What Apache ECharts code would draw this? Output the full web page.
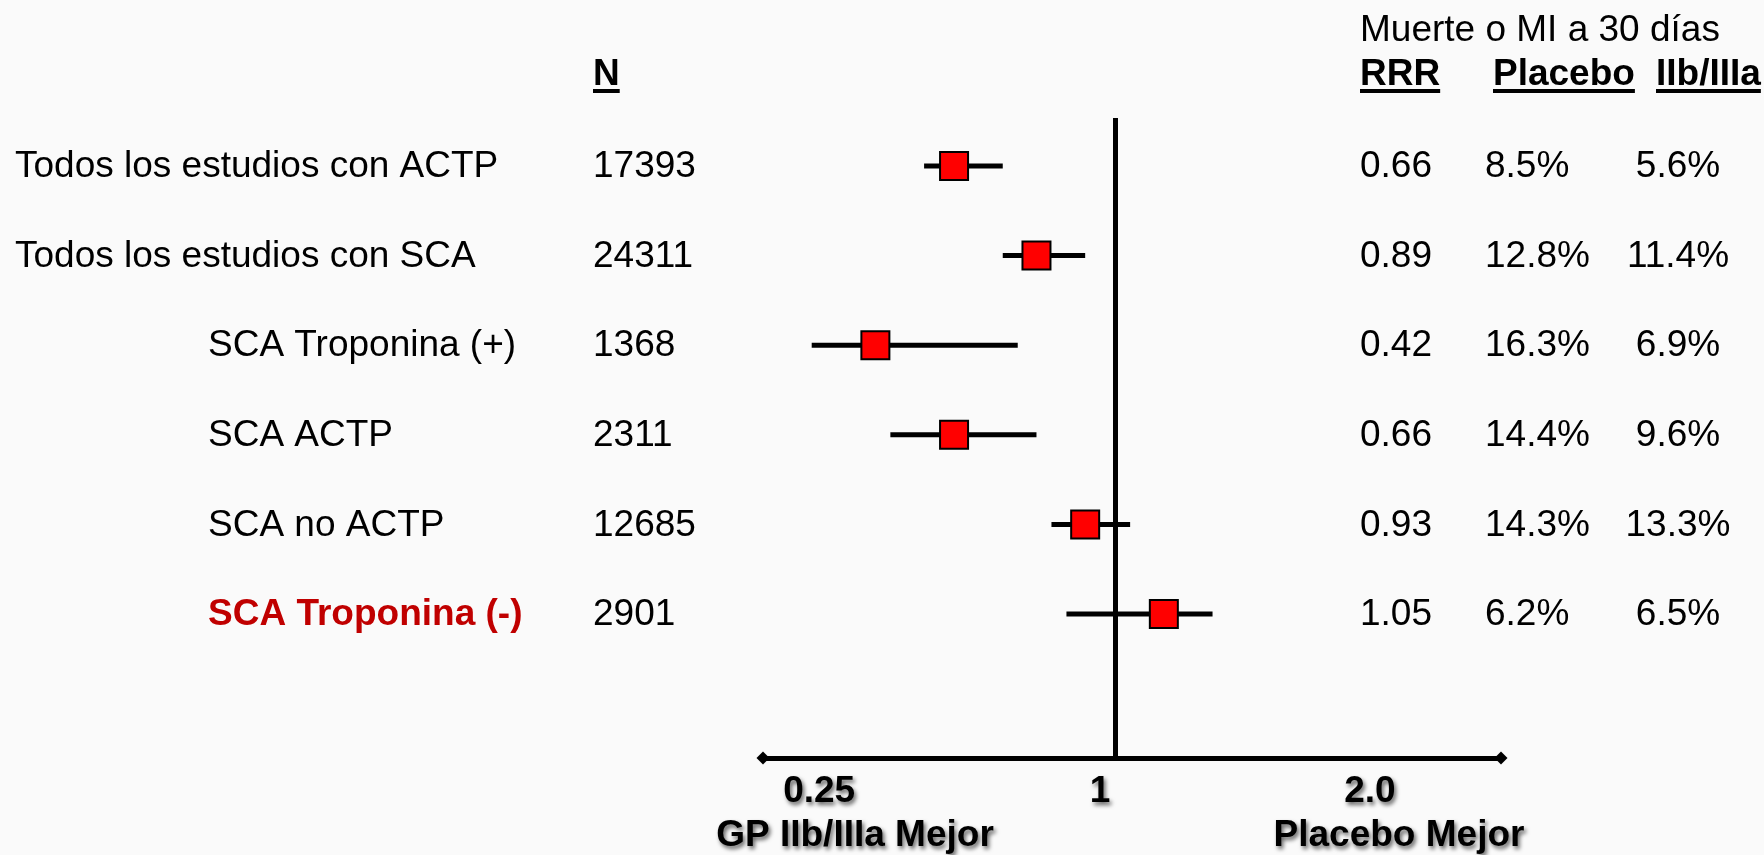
<!DOCTYPE html>
<html>
<head>
<meta charset="UTF-8">
<title>GP IIb/IIIa - Muerte o MI a 30 días</title>
<script src="https://cdn.jsdelivr.net/npm/echarts@6/dist/echarts.min.js"></script>
<style>
html, body { margin: 0; padding: 0; background: #fafafa; }
#main { width: 1764px; height: 855px; }
</style>
</head>
<body>
<div id="main"></div>
<script>
// filas del forest plot
var grupos = ['Todos los estudios con ACTP', 'Todos los estudios con SCA', 'SCA Troponina (+)',
              'SCA ACTP', 'SCA no ACTP', 'SCA Troponina (-)'];
var esSubgrupo = [false, false, true, true, true, true];
var destacado = [false, false, false, false, false, true];
var nPacientes = [17393, 24311, 1368, 2311, 12685, 2901];
var rrr = [0.66, 0.89, 0.42, 0.66, 0.93, 1.05];
var placebo = [8.5, 12.8, 16.3, 14.4, 14.3, 6.2];
var gpIIbIIIa = [5.6, 11.4, 6.9, 9.6, 13.3, 6.5];

// posicion dibujada de cada estimacion y su intervalo (escala del eje)
var estimado = [0.57, 0.79, 0.36, 0.57, 0.92, 1.13];
var icInf = [0.49, 0.70, 0.19, 0.40, 0.83, 0.87];
var icSup = [0.70, 0.92, 0.74, 0.79, 1.04, 1.26];

// etiquetas del eje x
var ticksX = [0.21, 0.96, 1.68];
var ticksTexto = ['0.25', '1', '2.0'];

var FUENTE = "'Liberation Sans', Arial, Helvetica, sans-serif";
var TAM = 37;
var SOMBRA = { textShadowColor: 'rgba(0,0,0,0.6)', textShadowBlur: 4, textShadowOffsetX: 2, textShadowOffsetY: 3 };

var chart = echarts.init(document.getElementById('main'));

var filas = grupos.map(function (g, i) { return i; });

// mide texto para los subrayados
var ctx = document.createElement('canvas').getContext('2d');
function ancho(texto, peso) {
	ctx.font = (peso || 'normal') + ' ' + TAM + 'px ' + FUENTE;
	return ctx.measureText(texto).width;
}

function encabezado(texto, x, y) {
	return [
		{ type: 'text', style: { text: texto, x: x, y: y, font: 'bold ' + TAM + 'px ' + FUENTE, fill: '#000', align: 'left', verticalAlign: 'middle' } },
		{ type: 'rect', shape: { x: x, y: y + 14, width: ancho(texto, 'bold'), height: 4 }, style: { fill: '#000' } }
	];
}

function pie(texto, x, y) {
	return { type: 'text', style: echarts.util.extend({
		text: texto, x: x, y: y, font: 'bold ' + TAM + 'px ' + FUENTE, fill: '#000', align: 'center', verticalAlign: 'middle'
	}, SOMBRA) };
}

var graficos = [].concat(
	encabezado('N', 593, 75),
	encabezado('RRR', 1360, 75),
	encabezado('Placebo', 1493, 75),
	encabezado('IIb/IIIa', 1656, 75),
	[
		{ type: 'text', style: { text: 'Muerte o MI a 30 días', x: 1360, y: 31, font: TAM + 'px ' + FUENTE, fill: '#000', align: 'left', verticalAlign: 'middle' } },
		pie('GP IIb/IIIa Mejor', 855, 836),
		pie('Placebo Mejor', 1399, 836)
	]
);

var option = {
	backgroundColor: '#fafafa',
	animation: false,
	grid: { left: 763, right: 263, top: 118, bottom: 97 },
	xAxis: {
		type: 'value',
		min: 0.06,
		max: 2.03,
		axisLine: {
			onZero: false,
			symbol: ['diamond', 'diamond'],
			symbolSize: [13, 13],
			lineStyle: { color: '#000', width: 5 }
		},
		axisTick: { show: false },
		splitLine: { show: false },
		axisLabel: {
			customValues: ticksX,
			formatter: function (v) {
				var k = 0;
				for (var j = 0; j < ticksX.length; j++) {
					if (Math.abs(ticksX[j] - v) < Math.abs(ticksX[k] - v)) k = j;
				}
				return ticksTexto[k];
			},
			margin: 15,
			color: '#000',
			fontFamily: FUENTE,
			fontSize: TAM,
			fontWeight: 'bold',
			textShadowColor: SOMBRA.textShadowColor,
			textShadowBlur: SOMBRA.textShadowBlur,
			textShadowOffsetX: SOMBRA.textShadowOffsetX,
			textShadowOffsetY: SOMBRA.textShadowOffsetY
		}
	},
	yAxis: { type: 'value', inverse: true, min: -0.536, max: 6.607, show: false },
	graphic: graficos,
	series: [
		{
			// intervalos de confianza
			type: 'custom',
			data: filas.map(function (i) { return [icInf[i], icSup[i], i]; }),
			encode: { x: [0, 1], y: 2 },
			renderItem: function (params, api) {
				var a = api.coord([api.value(0), api.value(2)]);
				var b = api.coord([api.value(1), api.value(2)]);
				return { type: 'line', shape: { x1: a[0], y1: a[1], x2: b[0], y2: b[1] }, style: { stroke: '#000', lineWidth: 5 } };
			},
			markLine: {
				silent: true,
				symbol: 'none',
				label: { show: false },
				lineStyle: { color: '#000', width: 5, type: 'solid' },
				data: [{ xAxis: 1 }]
			},
			z: 2
		},
		{
			type: 'scatter',
			data: filas.map(function (i) { return [estimado[i], i]; }),
			symbol: 'rect',
			symbolSize: 28,
			itemStyle: { color: '#ff0000', borderColor: '#000', borderWidth: 2, opacity: 1 },
			z: 3
		},
		{
			// tabla de texto
			type: 'custom',
			clip: false,
			data: filas.map(function (i) { return [1, i]; }),
			renderItem: function (params, api) {
				var i = api.value(1);
				var y = api.coord([1, i])[1] + 1;
				var fuente = TAM + 'px ' + FUENTE;
				var t = function (txt, x, al, font, color) {
					return { type: 'text', style: { text: txt, x: x, y: y, font: font || fuente, fill: color || '#000', align: al || 'left', verticalAlign: 'middle' } };
				};
				return {
					type: 'group',
					children: [
						t(grupos[i], esSubgrupo[i] ? 208 : 15, 'left',
							destacado[i] ? 'bold ' + fuente : fuente, destacado[i] ? '#c00000' : '#000'),
						t(String(nPacientes[i]), 593),
						t(rrr[i].toFixed(2), 1360),
						t(placebo[i].toFixed(1) + '%', 1485),
						t(gpIIbIIIa[i].toFixed(1) + '%', 1678, 'center')
					]
				};
			},
			z: 4
		}
	]
};

chart.setOption(option);
</script>
</body>
</html>
